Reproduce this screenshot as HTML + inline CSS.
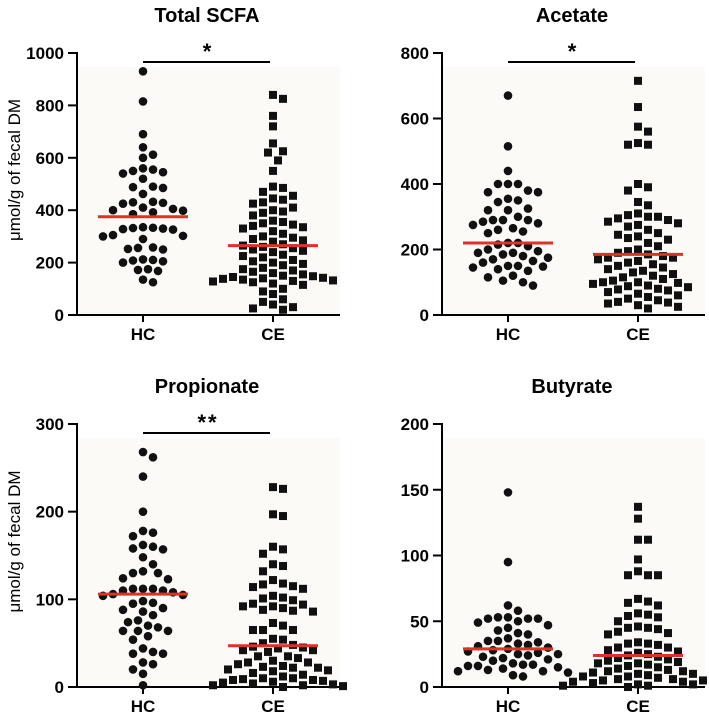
<!DOCTYPE html>
<html><head><meta charset="utf-8"><style>
html,body{margin:0;padding:0;background:#fff;}
svg{display:block;font-family:"Liberation Sans",Arial,sans-serif;}
</style></head><body>
<svg id="chart" width="709" height="717" viewBox="0 0 709 717"></svg>
<script>
const groups = ["HC","CE"];
const titles = ["Total SCFA","Acetate","Propionate","Butyrate"];
const yMaxes = [1000,800,300,200];
const yTicks0 = [0,200,400,600,800,1000];
const yTicks1 = [0,200,400,600,800];
const yTicks2 = [0,100,200,300];
const yTicks3 = [0,50,100,150,200];
const sigLabels = ["*","*","**",""];
const totalHC = [930,815,690,640,612,600,560,555,550,545,540,520,490,488,485,462,432,430,428,425,410,405,400,398,392,385,335,333,332,330,328,326,305,302,300,290,258,256,252,250,212,210,208,205,200,175,172,168,135,125];
const totalCE = [840,825,760,720,655,625,620,590,550,490,485,470,455,445,440,430,425,410,400,395,390,380,360,355,350,345,340,335,330,320,310,300,295,290,285,280,270,265,260,255,250,245,240,230,225,220,210,205,200,195,190,180,175,170,165,160,155,150,148,145,142,140,138,135,132,130,128,125,120,115,100,90,80,60,50,40,30,25,20];
const acetHC = [670,515,440,400,400,400,380,375,375,355,350,345,325,320,320,300,290,290,290,285,280,275,265,260,255,250,220,220,215,210,200,195,190,190,185,180,175,170,165,160,150,150,148,145,140,135,120,115,105,100,90];
const acetCE = [715,635,575,560,525,520,520,400,390,380,345,335,310,305,300,300,295,290,285,280,275,270,260,250,245,240,235,230,220,210,200,195,190,185,180,175,175,170,165,160,155,150,145,140,135,130,125,120,115,110,105,100,100,98,95,90,88,85,80,78,75,70,65,60,55,50,45,40,38,35,30,25,20];
const propHC = [268,262,240,200,178,176,172,162,160,158,157,148,140,132,130,130,124,123,112,112,112,110,110,108,106,105,104,98,96,95,90,88,86,82,76,74,70,68,64,64,64,58,54,44,40,38,38,28,26,20,15,2];
const propCE = [228,226,197,195,160,157,152,140,138,132,122,118,117,115,114,112,104,102,101,99,95,94,92,92,90,88,87,86,73,70,65,65,65,55,54,50,48,46,45,44,42,42,40,35,35,33,30,28,28,26,24,23,22,22,20,19,18,16,14,12,10,10,9,8,8,7,6,5,4,3,2,2,1,0];
const butHC = [148,95,62,58,53,53,52,52,52,50,49,47,45,43,41,40,37,35,35,34,33,32,31,30,29,28,27,26,25,25,24,23,22,21,20,18,17,17,16,16,15,14,13,12,12,11,9,8];
const butCE = [137,128,112,112,97,88,85,85,85,67,65,64,62,56,55,54,53,50,46,45,45,44,42,41,40,34,33,33,32,30,30,28,27,26,25,24,23,22,21,20,19,18,18,17,16,15,14,13,12,12,11,10,10,9,8,8,7,6,6,5,5,4,4,3,3,2,2,1,1,0];
const meansHC = [375,220,106,29];
const meansCE = [265,185,47,24];

const NS="http://www.w3.org/2000/svg";
const svg=document.getElementById('chart');
function mk(tag,attrs,parent){const e=document.createElementNS(NS,tag);for(const k in attrs)e.setAttribute(k,attrs[k]);(parent||svg).appendChild(e);return e;}
const panels=[
 {ax:77,top:53,bot:315,ticks:yTicks0,hc:totalHC,ce:totalCE,ytitle:true},
 {ax:442,top:53,bot:315,ticks:yTicks1,hc:acetHC,ce:acetCE,ytitle:false},
 {ax:77,top:424,bot:687,ticks:yTicks2,hc:propHC,ce:propCE,ytitle:true},
 {ax:442,top:424,bot:687,ticks:yTicks3,hc:butHC,ce:butCE,ytitle:false}
];
function swarm(vals,yf,cx){
  const sorted=vals.slice().sort((a,b)=>b-a);const placed=[];const s=5,d=10;
  sorted.forEach(v=>{const y=yf(v);
    for(let k=0;k<60;k++){const off=(k===0)?0:(k%2?1:-1)*Math.ceil(k/2)*s;const x=cx+off;
      if(placed.every(p=>(p.x-x)**2+(p.y-y)**2>=d*d)||k===59){placed.push({x,y,v});break;}}
  });return placed;}
panels.forEach((p,i)=>{
  const g=mk('g',{});
  
  
  const xHC=p.ax+66,xCE=p.ax+196,xEnd=p.ax+263;
  const yf=v=>p.bot-(v/yMaxes[i])*(p.bot-p.top);
  const bg=mk('rect',{x:p.ax+1,y:p.top+14,width:xEnd-p.ax-1,height:p.bot-p.top-14,fill:'#fcfaf6'},g);
  
  const t=mk('text',{x:p.ax+130,y:p.top-31,'text-anchor':'middle','font-size':'20','font-weight':'bold'},g);
  t.textContent=titles[i];
  p.ticks.forEach(tv=>{const y=yf(tv);
    const tl=mk('line',{x1:p.ax-9,x2:p.ax,y1:y,y2:y,stroke:'#000','stroke-width':2},g);
    
    const tx=mk('text',{x:p.ax-13,y:y+6,'text-anchor':'end','font-size':'17','font-weight':'bold'},g);
    tx.textContent=tv;});
  const ya=mk('line',{x1:p.ax,x2:p.ax,y1:p.top-1,y2:p.bot+1,stroke:'#000','stroke-width':2},g);
  
  const xa=mk('line',{x1:p.ax-1,x2:xEnd,y1:p.bot,y2:p.bot,stroke:'#000','stroke-width':2},g);
  
  [xHC,xCE].forEach((x,j)=>{
    const xt=mk('line',{x1:x,x2:x,y1:p.bot,y2:p.bot+7,stroke:'#000','stroke-width':2},g);
    
    const xl=mk('text',{x:x,y:p.bot+25,'text-anchor':'middle','font-size':'17','font-weight':'bold'},g);
    xl.textContent=groups[j];});
  if(p.ytitle){const yt=mk('text',{x:0,y:0,transform:`translate(20,${(p.top+p.bot)/2-14}) rotate(-90)`,'text-anchor':'middle','font-size':'17'},g);
    yt.textContent='\u03bcmol/g of fecal DM';}
  swarm(p.hc,yf,xHC).forEach(pt=>{const c=mk('circle',{cx:pt.x,cy:pt.y,r:4.3,fill:'#111'},g);
    });
  swarm(p.ce,yf,xCE).forEach(pt=>{const r=mk('rect',{x:pt.x-4,y:pt.y-4,width:8,height:8,fill:'#111'},g);
    });
  [[xHC,meansHC[i]],[xCE,meansCE[i]]].forEach(([x,m])=>{
    const ml=mk('line',{x1:x-45,x2:x+45,y1:yf(m),y2:yf(m),stroke:'#e0302a','stroke-width':3},g);
    });
  if(sigLabels[i]){
    const sb=mk('line',{x1:xHC,x2:xCE-3,y1:p.top+9,y2:p.top+9,stroke:'#000','stroke-width':2},g);
    
    const st=mk('text',{x:(xHC+xCE)/2,y:p.top+6,'text-anchor':'middle','font-size':'22','font-weight':'bold','letter-spacing':'2'},g);
    st.textContent=sigLabels[i];}
});
</script>
</body></html>
